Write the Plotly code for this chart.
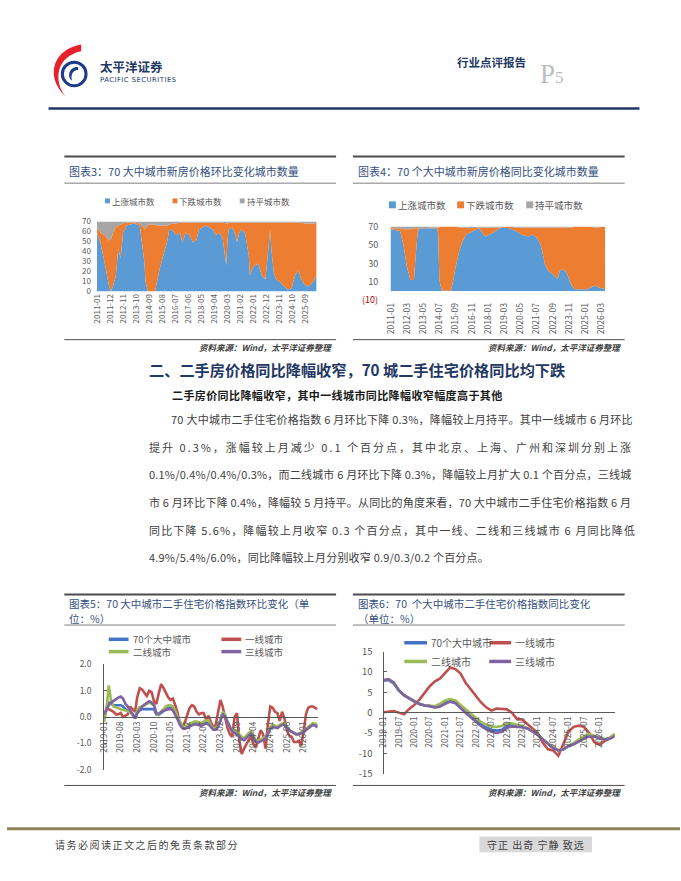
import pandas as pd
import plotly.graph_objects as go

W, H = 681, 881
FONT = "Noto Sans CJK SC"


def fx(x):
    return x / W


def fy(y):
    return 1 - y / H


# ---------------- 图表3: 新房价格环比变化城市数量 ----------------
NEW_MOM_DATES = [
    "2011-01", "2011-04", "2011-08", "2011-11", "2012-01", "2012-03", "2012-05", "2012-07",
    "2012-09", "2012-11", "2013-02", "2013-05", "2013-09", "2014-01", "2014-03", "2014-05",
    "2014-06", "2014-08", "2015-02", "2015-03", "2015-06", "2015-09", "2015-12", "2016-02",
    "2016-05", "2016-08", "2016-11", "2017-01", "2017-04", "2017-07", "2017-10", "2018-01",
    "2018-03", "2018-06", "2018-09", "2018-12", "2019-03", "2019-05", "2019-08", "2019-11",
    "2020-02", "2020-03", "2020-04", "2020-07", "2020-10", "2020-11", "2021-01", "2021-03",
    "2021-06", "2021-09", "2021-10", "2021-12", "2022-02", "2022-05", "2022-08", "2022-11",
    "2023-02", "2023-03", "2023-04", "2023-06", "2023-08", "2023-11", "2024-03", "2024-06",
    "2024-09", "2024-12", "2025-03", "2025-05", "2025-08", "2025-11", "2026-02", "2026-04",
    "2026-06",
]
NEW_MOM_UP = [
    59, 49, 26, 7, 0, 7, 16, 43, 33, 59, 66, 67, 68, 66, 49, 30,
    10, 0, 0, 6, 23, 36, 49, 62, 61, 56, 59, 49, 59, 56, 49, 52,
    62, 64, 66, 64, 62, 56, 59, 53, 26, 49, 62, 64, 56, 49, 59, 62,
    58, 36, 16, 23, 26, 28, 16, 12, 49, 62, 43, 20, 12, 10, 5, 2,
    3, 16, 21, 13, 7, 5, 8, 11, 16,
]
NEW_MOM_DOWN = [
    5, 10, 30, 44, 53, 53, 48, 23, 34, 9, 3, 2, 1, 2, 17, 33,
    53, 67, 67, 60, 43, 30, 17, 5, 7, 12, 10, 20, 10, 13, 20, 17,
    7, 5, 3, 5, 7, 13, 10, 16, 42, 19, 7, 5, 13, 20, 10, 7,
    11, 33, 53, 46, 43, 41, 53, 57, 20, 7, 26, 49, 57, 59, 64, 67,
    66, 53, 48, 56, 61, 63, 60, 57, 53,
]
NEW_MOM_FLAT = [
    6, 11, 14, 19, 17, 10, 6, 4, 3, 2, 1, 1, 1, 2, 4, 7,
    7, 3, 3, 4, 4, 4, 4, 3, 2, 2, 1, 1, 1, 1, 1, 1,
    1, 1, 1, 1, 1, 1, 1, 1, 2, 2, 1, 1, 1, 1, 1, 1,
    1, 1, 1, 1, 1, 1, 1, 1, 1, 1, 1, 1, 1, 1, 1, 1,
    1, 1, 1, 1, 2, 2, 2, 2, 1,
]
NEW_MOM_TICKS = [
    "2011-01", "2011-12", "2012-11", "2013-10", "2014-09", "2015-08", "2016-07", "2017-06",
    "2018-05", "2019-04", "2020-03", "2021-02", "2022-01", "2022-12", "2023-11", "2024-10",
    "2025-09",
]

# ---------------- 图表4: 新房价格同比变化城市数量 ----------------
NEW_YOY_DATES = [
    "2011-01", "2011-06", "2011-09", "2011-12", "2012-03", "2012-06", "2012-09", "2012-10",
    "2012-12", "2013-01", "2013-05", "2014-01", "2014-05", "2014-06", "2014-07", "2014-09",
    "2015-05", "2015-07", "2015-09", "2015-12", "2016-03", "2016-06", "2016-12", "2017-05",
    "2017-08", "2017-11", "2018-02", "2018-05", "2018-11", "2019-03", "2019-07", "2020-01",
    "2020-06", "2020-12", "2021-03", "2021-06", "2021-09", "2021-11", "2022-02", "2022-05",
    "2022-08", "2023-01", "2023-03", "2023-06", "2023-09", "2024-01", "2024-04", "2024-10",
    "2025-03", "2025-09", "2025-12", "2026-06",
]
NEW_YOY_UP = [
    67, 66, 65, 50, 26, 12, 12, 29, 61, 67, 68, 68, 68, 61, 12, 1,
    0, 12, 26, 43, 54, 61, 65, 68, 63, 59, 61, 63, 68, 69, 68, 65,
    61, 59, 61, 59, 54, 47, 29, 22, 19, 13, 22, 24, 19, 6, 2, 2,
    2, 6, 4, 2,
]
NEW_YOY_DOWN = [
    1, 2, 3, 17, 41, 55, 56, 39, 7, 1, 0, 1, 1, 8, 57, 69,
    70, 58, 44, 26, 15, 8, 3, 1, 6, 10, 8, 6, 1, 1, 2, 4,
    8, 10, 8, 10, 15, 22, 40, 47, 50, 56, 47, 45, 50, 63, 68, 68,
    68, 63, 65, 68,
]
NEW_YOY_FLAT = [
    2, 2, 2, 3, 3, 3, 2, 2, 2, 2, 2, 1, 1, 1, 1, 0,
    0, 0, 0, 1, 1, 1, 2, 1, 1, 1, 1, 1, 1, 0, 0, 1,
    1, 1, 1, 1, 1, 1, 1, 1, 1, 1, 1, 1, 1, 1, 0, 0,
    0, 1, 1, 0,
]
NEW_YOY_TICKS = [
    "2011-01", "2012-03", "2013-05", "2014-07", "2015-09", "2016-11", "2018-01", "2019-03",
    "2020-05", "2021-07", "2022-09", "2023-11", "2025-01", "2026-03",
]

# ---------------- 图表5: 二手住宅价格指数环比 (%), 月度, 自 2019-01 ----------------
MOM_70 = [
    0.05, 0.3, 0.55, 0.5, 0.45, 0.45, 0.45, 0.45, 0.4, 0.3,
    0.25, 0.2, 0.1, -0.05, 0.15, 0.25, 0.3, 0.3, 0.3, 0.3,
    0.3, 0.3, 0.1, 0.08, 0.15, 0.25, 0.3, 0.35, 0.35, 0.3,
    0.15, -0.05, -0.25, -0.38, -0.4, -0.35, -0.3, -0.27, -0.23, -0.23,
    -0.25, -0.28, -0.23, -0.2, -0.22, -0.36, -0.45, -0.45, -0.33, -0.12,
    0.15, 0.05, -0.18, -0.4, -0.5, -0.55, -0.6, -0.7, -0.8, -0.85,
    -0.75, -0.65, -0.58, -0.75, -0.9, -0.92, -0.88, -0.84, -0.78, -0.62,
    -0.4, -0.33, -0.36, -0.38, -0.33, -0.27, -0.27, -0.38, -0.5, -0.55,
    -0.6, -0.66, -0.64, -0.6, -0.56, -0.47, -0.39, -0.33, -0.27, -0.29,
    -0.35,
]
MOM_T1 = [
    -0.05, 0.35, 0.3, 0.25, 0.2, 0.1, 0.1, 0.15, 0.0, 0.05,
    0.1, 0.4, 0.3, 0.2, 0.75, 1.1, 1.05, 0.9, 0.8, 1.0,
    0.95, 0.6, 0.5, 0.9, 1.25, 1.1, 0.95, 0.75, 0.65, 0.7,
    0.45, 0.15, -0.3, -0.4, -0.2, 0.05, 0.35, 0.45, 0.4, 0.2,
    0.1, 0.15, 0.15, -0.1, 0.05, -0.2, -0.4, -0.3, 0.25, 0.65,
    0.4, 0.0, -0.4, -0.65, -0.75, 0.0, 0.15, -0.9, -1.4, -1.2,
    -1.0, -0.85, -0.75, -1.05, -1.15, -0.8, -0.5, -0.65, -1.2, -0.3,
    0.4, 0.35, 0.2, 0.15, -0.15, 0.2, -0.05, -0.5, -0.7, -0.75,
    -0.95, -0.95, -0.9, -1.1, -0.6, 0.1, 0.35, 0.4, 0.4, 0.35,
    0.3,
]
MOM_T2 = [
    -0.2, 0.3, 1.2, 0.6, 0.4, 0.35, 0.33, 0.3, 0.27, 0.25,
    0.22, 0.2, 0.1, 0.0, 0.27, 0.38, 0.4, 0.45, 0.5, 0.55,
    0.5, 0.45, 0.15, 0.08, 0.2, 0.33, 0.4, 0.45, 0.45, 0.4,
    0.25, 0.0, -0.2, -0.33, -0.36, -0.3, -0.25, -0.22, -0.17, -0.17,
    -0.2, -0.23, -0.17, -0.13, -0.15, -0.33, -0.42, -0.42, -0.3, -0.1,
    0.2, 0.1, -0.15, -0.4, -0.48, -0.5, -0.55, -0.65, -0.75, -0.8,
    -0.7, -0.6, -0.55, -0.73, -0.88, -0.9, -0.85, -0.8, -0.75, -0.6,
    -0.36, -0.3, -0.33, -0.36, -0.3, -0.25, -0.25, -0.36, -0.5, -0.55,
    -0.6, -0.67, -0.63, -0.6, -0.55, -0.45, -0.36, -0.3, -0.23, -0.25,
    -0.3,
]
MOM_T3 = [
    0.1, 0.3, 0.45, 0.55, 0.62, 0.68, 0.74, 0.78, 0.7, 0.5,
    0.4, 0.25, 0.1, -0.05, 0.15, 0.3, 0.4, 0.48, 0.55, 0.6,
    0.55, 0.45, 0.15, 0.12, 0.2, 0.25, 0.27, 0.3, 0.3, 0.25,
    0.1, -0.1, -0.3, -0.42, -0.45, -0.4, -0.35, -0.3, -0.28, -0.28,
    -0.3, -0.33, -0.28, -0.25, -0.28, -0.4, -0.48, -0.48, -0.38, -0.15,
    0.12, 0.0, -0.2, -0.42, -0.55, -0.6, -0.65, -0.75, -0.85, -0.88,
    -0.8, -0.7, -0.62, -0.8, -0.95, -0.97, -0.92, -0.88, -0.82, -0.65,
    -0.45, -0.38, -0.4, -0.42, -0.36, -0.3, -0.3, -0.4, -0.5, -0.55,
    -0.6, -0.65, -0.65, -0.62, -0.58, -0.5, -0.42, -0.36, -0.3, -0.33,
    -0.4,
]
MOM_TICKS = [
    "2019-01", "2019-08", "2020-03", "2020-10", "2021-05", "2021-12", "2022-07",
    "2023-02", "2023-09", "2024-04", "2024-11", "2025-06", "2026-01",
]
MOM_TICKVALS = [-2, -1, 0, 1, 2]
MOM_TICKTEXT = ["-2.0", "-1.0", "0.0", "1.0", "2.0"]

# ---------------- 图表6: 二手住宅价格指数同比 (%), 双月, 自 2019-01 ----------------
YOY_70 = [
    7.8, 8.0, 7.2, 5.4, 4.2, 3.4, 2.7, 2.1, 1.75, 1.6, 1.4, 1.8, 2.6, 3.0, 2.6, 1.4,
    0.3, -0.8, -1.9, -2.9, -3.6, -4.2, -4.4, -4.2, -3.3, -3.1, -3.3, -3.5, -3.9, -4.6,
    -5.4, -6.6, -7.7, -8.7, -9.3, -9.0, -8.2, -7.7, -6.9, -6.1, -5.6, -5.8, -6.2, -6.6,
    -6.3, -5.5,
]
YOY_T1 = [
    0.1, 0.3, 0.4, 0.0, -0.4, 0.9, 1.9, 3.2, 4.9, 6.5, 7.7, 8.4, 9.8, 11.1, 10.7, 9.6,
    7.3, 5.6, 3.9, 2.5, 1.3, 0.5, 1.0, 0.9, 0.8, 0.0, -1.6, -1.7, -2.8, -3.8,
    -5.0, -7.4, -9.0, -9.3, -10.6, -7.6, -4.6, -3.5, -3.2, -3.5, -5.0, -7.3, -7.9, -7.0,
    -6.4, -5.3,
]
YOY_T2 = [
    7.9, 8.2, 7.4, 5.5, 4.3, 3.5, 2.8, 2.2, 1.8, 1.7, 1.6, 2.2, 3.0, 3.35, 3.0, 1.9,
    0.7, -0.3, -1.3, -2.3, -3.0, -3.4, -3.5, -3.3, -2.6, -2.6, -3.0, -3.4, -3.8, -4.5,
    -5.3, -6.5, -7.6, -8.6, -9.2, -9.0, -8.1, -7.5, -6.6, -5.8, -5.3, -5.7, -6.2, -6.5,
    -6.2, -5.2,
]
YOY_T3 = [
    8.0, 8.2, 7.4, 5.5, 4.3, 3.5, 2.7, 2.1, 1.75, 1.6, 1.2, 1.5, 2.2, 2.7, 2.3, 1.0,
    -0.1, -1.2, -2.3, -3.3, -4.1, -4.7, -5.0, -4.7, -3.7, -3.4, -3.5, -3.6, -3.9, -4.6,
    -5.4, -6.6, -7.7, -8.7, -9.3, -9.0, -8.2, -7.8, -7.1, -6.4, -5.9, -5.9, -6.3, -6.6,
    -6.4, -5.8,
]
YOY_TICKS = [
    "2019-01", "2019-07", "2020-01", "2020-07", "2021-01", "2021-07", "2022-01", "2022-07",
    "2023-01", "2023-07", "2024-01", "2024-07", "2025-01", "2025-07", "2026-01",
]
YOY_TICKVALS = [-15, -10, -5, 0, 5, 10, 15]
YOY_TICKTEXT = ["-15", "-10", "-5", "0", "5", "10", "15"]

COUNT_NAMES = ["上涨城市数", "下跌城市数", "持平城市数"]
LINE_NAMES = ["70个大中城市", "一线城市", "二线城市", "三线城市"]

PARAGRAPH = [
    "70 大中城市二手住宅价格指数 6 月环比下降 0.3%，降幅较上月持平。其中一线城市 6 月环比",
    "提升 0.3%，涨幅较上月减少 0.1 个百分点，其中北京、上海、广州和深圳分别上涨",
    "0.1%/0.4%/0.4%/0.3%，而二线城市 6 月环比下降 0.3%，降幅较上月扩大 0.1 个百分点，三线城",
    "市 6 月环比下降 0.4%，降幅较 5 月持平。从同比的角度来看，70 大中城市二手住宅价格指数 6 月",
    "同比下降 5.6%，降幅较上月收窄 0.3 个百分点，其中一线、二线和三线城市 6 月同比降低",
    "4.9%/5.4%/6.0%，同比降幅较上月分别收窄 0.9/0.3/0.2 个百分点。",
]
# letter spacing (px) per paragraph line, imitating the justified layout
PARA_SPACING = [0.25, 2.0, 0.2, 0.2, 1.15, 0.2]

AREA_COLORS = ["#5B9BD5", "#ED7D31", "#A5A5A5"]
LINE_COLORS = ["#4472C4", "#C0504D", "#9BBB59", "#8064A2"]
TICK_GREY = "#595959"
TITLE_BLUE = "#34507E"
NAVY = "#1F3864"

mom_months = pd.date_range("2019-01-01", periods=len(MOM_70), freq="MS").strftime("%Y-%m").tolist()
yoy_months = pd.date_range("2019-01-01", periods=len(YOY_70), freq="2MS").strftime("%Y-%m").tolist()

fig = go.Figure()

# stacked areas
for series, name, color in zip([NEW_MOM_UP, NEW_MOM_DOWN, NEW_MOM_FLAT], COUNT_NAMES, AREA_COLORS):
    fig.add_trace(go.Scatter(x=NEW_MOM_DATES, y=series, name=name, stackgroup="mom", mode="none",
                             fillcolor=color, xaxis="x", yaxis="y", showlegend=False))
for series, name, color in zip([NEW_YOY_UP, NEW_YOY_DOWN, NEW_YOY_FLAT], COUNT_NAMES, AREA_COLORS):
    fig.add_trace(go.Scatter(x=NEW_YOY_DATES, y=series, name=name, stackgroup="yoy", mode="none",
                             fillcolor=color, xaxis="x2", yaxis="y2", showlegend=False))

# line charts
for series, name, color in zip([MOM_70, MOM_T1, MOM_T2, MOM_T3], LINE_NAMES, LINE_COLORS):
    fig.add_trace(go.Scatter(x=mom_months, y=series, name=name, mode="lines",
                             line=dict(color=color, width=2.6), xaxis="x3", yaxis="y3", showlegend=False))
for series, name, color in zip([YOY_70, YOY_T1, YOY_T2, YOY_T3], LINE_NAMES, LINE_COLORS):
    fig.add_trace(go.Scatter(x=yoy_months, y=series, name=name, mode="lines",
                             line=dict(color=color, width=2.6), xaxis="x4", yaxis="y4", showlegend=False))

tickfont = dict(family=FONT, size=8, color=TICK_GREY)
common_x = dict(type="date", showgrid=False, zeroline=False, tickangle=-90, fixedrange=True)
common_y = dict(showgrid=False, fixedrange=True)

fig.update_layout(
    width=W, height=H,
    margin=dict(l=0, r=0, t=0, b=0),
    paper_bgcolor="white", plot_bgcolor="rgba(0,0,0,0)",
    font=dict(family=FONT, color="#404040"),
    showlegend=False,
    xaxis=dict(common_x, domain=[fx(91), fx(314)], anchor="y", range=["2011-01-01", "2026-06-25"],
               tickvals=NEW_MOM_TICKS, ticktext=NEW_MOM_TICKS, tickfont=tickfont, ticks=""),
    yaxis=dict(common_y, domain=[fy(288), fy(217)], anchor="x", range=[0, 70], dtick=10,
               tickfont=tickfont, zeroline=False, ticks="", ticklabelstandoff=5),
    xaxis2=dict(common_x, domain=[fx(386.7), fx(605.7)], anchor="y2", range=["2010-11-20", "2026-06-13"],
                tickvals=NEW_YOY_TICKS, ticktext=NEW_YOY_TICKS, tickfont=dict(tickfont, size=8.5), ticks=""),
    yaxis2=dict(common_y, domain=[fy(297), fy(222)], anchor="x2", range=[-10, 70],
                tickvals=[-10, 10, 30, 50, 70],
                ticktext=["<span style='color:#C00000'>(10)</span>", "10", "30", "50", "70"],
                tickfont=dict(tickfont, size=9), zeroline=False, ticks="", ticklabelstandoff=10),
    xaxis3=dict(common_x, domain=[fx(98.3), fx(314.3)], anchor="free", position=fy(720.5),
                range=["2019-01-01", "2026-07-01"], tickvals=MOM_TICKS, ticktext=MOM_TICKS,
                tickfont=dict(tickfont, size=8.5), showline=True, linecolor="#595959", linewidth=1, ticks=""),
    yaxis3=dict(common_y, domain=[fy(774), fy(667)], anchor="x3", range=[-2, 2],
                tickvals=MOM_TICKVALS, ticktext=MOM_TICKTEXT, tickfont=dict(tickfont, size=8.5),
                showline=True, linecolor="#595959", linewidth=1, zeroline=False,
                ticks="inside", ticklen=3, tickcolor="#595959", ticklabelstandoff=10),
    xaxis4=dict(common_x, domain=[fx(381), fx(615)], anchor="free", position=fy(715.5),
                range=["2019-01-01", "2026-07-01"], tickvals=YOY_TICKS, ticktext=YOY_TICKS,
                tickfont=dict(tickfont, size=8.5), showline=True, linecolor="#595959", linewidth=1, ticks=""),
    yaxis4=dict(common_y, domain=[fy(778), fy(654)], anchor="x4", range=[-15, 15],
                tickvals=YOY_TICKVALS, ticktext=YOY_TICKTEXT, tickfont=dict(tickfont, size=9.5),
                showline=True, linecolor="#595959", linewidth=1, zeroline=False,
                ticks="inside", ticklen=3, tickcolor="#595959", ticklabelstandoff=8),
)

shapes = []
annotations = []


def hline(y, x0, x1, color, width):
    shapes.append(dict(type="line", xref="paper", yref="paper", x0=fx(x0), x1=fx(x1), y0=fy(y), y1=fy(y),
                       line=dict(color=color, width=width)))


def text(x, y, s, size, color="#404040", anchor="left", family=FONT, spacing=None):
    if spacing:
        s = f"<span style='letter-spacing:{spacing}px'>{s}</span>"
    annotations.append(dict(xref="paper", yref="paper", x=fx(x), y=fy(y), text=s, showarrow=False,
                            xanchor=anchor, yanchor="middle", borderpad=0,
                            font=dict(family=family, size=size, color=color)))


def path(cmds):
    out = []
    for c in cmds:
        op, pts = c[0], c[1:]
        coords = " ".join(f"{fx(pts[i]):.5f},{fy(pts[i + 1]):.5f}" for i in range(0, len(pts), 2))
        out.append(f"{op}{coords}")
    return " ".join(out) + " Z"


# ---- page header
shapes.append(dict(type="path", xref="paper", yref="paper",
                   path=path([("M", 75, 37), ("C", 50, 41, 36, 66, 59, 90), ("C", 46, 72, 51, 49, 75, 44)]),
                   fillcolor="#E8202A", line=dict(width=0)))
shapes.append(dict(type="circle", xref="paper", yref="paper", x0=fx(56), x1=fx(80), y0=fy(79), y1=fy(55),
                   line=dict(color="#1E3A8A", width=3), fillcolor="white"))
shapes.append(dict(type="path", xref="paper", yref="paper",
                   path=path([("M", 72, 60), ("C", 63, 59, 60, 70, 66, 74), ("C", 64, 69, 66, 63, 72, 63)]),
                   fillcolor="#1E3A8A", line=dict(width=0)))
text(93, 59, "<b>太平洋证券</b>", 12.5, NAVY)
text(93, 73, "PACIFIC SECURITIES", 6.8, NAVY, family="DejaVu Sans", spacing=0.5)
text(454, 55, "<b>行业点评报告</b>", 11.5, NAVY)
text(538, 67, "P", 27, "#BDBDBD", family="Liberation Serif")
text(554, 71, "5", 17, "#BDBDBD", family="Liberation Serif")
hline(102, 42, 640, NAVY, 2.5)

# ---- chart boxes
BOXES = [
    (58, 333, 151, 178, 337, ["图表3：70 大中城市新房价格环比变化城市数量"], 344),
    (350, 625, 151, 178, 337, ["图表4：70 个大中城市新房价格同比变化城市数量"], 344),
    (58, 333, 596, 627, 790, ["图表5：70 大中城市二手住宅价格指数环比变化（单", "位：%）"], 797),
    (350, 625, 596, 627, 790, ["图表6：70  个大中城市二手住宅价格指数同比变化", "（单位：%）"], 797),
]
for x0, x1, top, mid, bottom, titles, src_y in BOXES:
    hline(top, x0, x1, "#4D4D4D", 2)
    hline(mid, x0, x1, "#7F7F7F", 1)
    hline(bottom, x0, x1, "#4D4D4D", 1)
    if len(titles) == 1:
        text(x0 + 4, (top + mid) / 2 + 1, titles[0], 11, TITLE_BLUE)
    else:
        text(x0 + 4, top + 9, titles[0], 10.5, TITLE_BLUE)
        text(x0 + 4, top + 24, titles[1], 10.5, TITLE_BLUE)
    text(x1 - 3, src_y, "<b><i>资料来源：Wind，太平洋证券整理</i></b>", 8.5, "#404040", anchor="right")

# ---- legends
for (sx, sy, size, fs), color, name in zip([(101.7, 196, 5, 8.5), (170, 196, 5, 8.5), (238, 196, 5, 8.5)],
                                           AREA_COLORS, COUNT_NAMES):
    shapes.append(dict(type="rect", xref="paper", yref="paper", x0=fx(sx - size / 2), x1=fx(sx + size / 2),
                       y0=fy(sy + size / 2), y1=fy(sy - size / 2), fillcolor=color, line=dict(width=0)))
    text(sx + size / 2 + 1, sy, name, fs, TICK_GREY)
for (sx, sy, size, fs), color, name in zip([(390, 200, 7, 9.5), (459, 200, 7, 9.5), (529, 200, 7, 9.5)],
                                           AREA_COLORS, COUNT_NAMES):
    shapes.append(dict(type="rect", xref="paper", yref="paper", x0=fx(sx - size / 2), x1=fx(sx + size / 2),
                       y0=fy(sy + size / 2), y1=fy(sy - size / 2), fillcolor=color, line=dict(width=0)))
    text(sx + size / 2 + 1, sy, name, fs, TICK_GREY)

LEG5 = [(103, 123, 641.5), (217, 237, 641.5), (103, 123, 654), (217, 237, 654)]
LEG6 = [(402, 425, 645), (488, 510, 645), (402, 425, 664), (488, 510, 664)]
for legs, fs in [(LEG5, 9.5), (LEG6, 10)]:
    for (a, b, y), color, name in zip(legs, LINE_COLORS, LINE_NAMES):
        hline(y, a, b, color, 3.5)
        text(b + 3, y, name, fs, TICK_GREY)

# ---- body text
text(143, 367, "<b>二、二手房价格同比降幅收窄，70 城二手住宅价格同比均下跌</b>", 15.2, NAVY)
text(166, 393, "<b>二手房价同比降幅收窄，其中一线城市同比降幅收窄幅度高于其他</b>", 11, "#1A1A1A", spacing=0.4)
PARA_Y = [418, 446, 474, 502, 530, 558]
for i, (line, sp, y) in enumerate(zip(PARAGRAPH, PARA_SPACING, PARA_Y)):
    text(165 if i == 0 else 143, y, line, 11, "#404040", spacing=sp)

# ---- footer
hline(834, 0, 681, "#8C8458", 3)
text(48, 850, "请务必阅读正文之后的免责条款部分", 10, "#404040", spacing=1.5)
shapes.append(dict(type="rect", xref="paper", yref="paper", x0=fx(478), x1=fx(592), y0=fy(858), y1=fy(842),
                   fillcolor="#D9D9D9", line=dict(width=0)))
text(535, 850, "守正 出奇 宁静 致远", 10, "#404040", anchor="center", spacing=1)

fig.update_layout(shapes=shapes, annotations=annotations)
fig.write_html("out.html", config={"displayModeBar": False},
               post_script="document.body.style.margin='0px';")
